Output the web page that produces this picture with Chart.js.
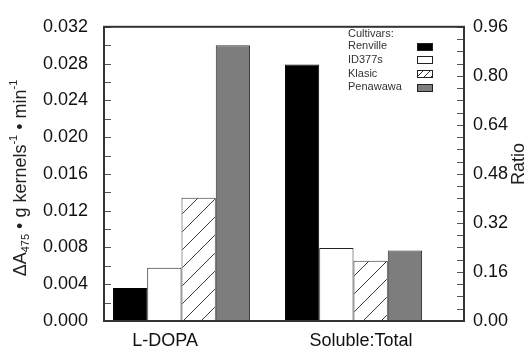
<!DOCTYPE html>
<html>
<head>
<meta charset="utf-8">
<script src="https://cdn.jsdelivr.net/npm/chart.js@4.4.0/dist/chart.umd.min.js"></script>
<style>
  body { margin: 0; background: #fff; }
  #wrap { width: 528px; height: 348px; }
</style>
</head>
<body>
<div id="wrap"><canvas id="myChart" width="528" height="348"></canvas></div>
<script>
"use strict"

// data
const groups = ["L-DOPA", "Soluble:Total"];
const cultivars = ["Renville", "ID377s", "Klasic", "Penawawa"];
const lDopaValues = [0.0036, 0.0058, 0.0134, 0.0300];   // left axis
const ratioValues = [0.837, 0.238, 0.197, 0.230];       // right axis (Ratio)

const fontFamily = "'Liberation Sans', Arial, Helvetica, sans-serif";
const canvas = document.getElementById("myChart");
const ctx = canvas.getContext("2d");

// diagonal hatch for Klasic
function makeHatch(c2d) {
    const c = document.createElement("canvas");
    c.width = 18;
    c.height = 18;
    const g = c.getContext("2d");
    g.fillStyle = "#ffffff";
    g.fillRect(0, 0, 18, 18);
    g.strokeStyle = "#3a3a3a";
    g.lineWidth = 1;
    g.beginPath();
    g.moveTo(0, 18); g.lineTo(18, 0);
    g.moveTo(-9, 9); g.lineTo(9, -9);
    g.moveTo(9, 27); g.lineTo(27, 9);
    g.stroke();
    return c2d.createPattern(c, "repeat");
}

const hatch = makeHatch(ctx);
const fills = ["#000000", "#ffffff", hatch, "#7d7d7d"];
const edges = ["#000000", "#222222", "#333333", "#333333"];

let datasets = [];
for (let i = 0; i < cultivars.length; i++) {
    datasets.push({
        label: cultivars[i],
        data: [lDopaValues[i], null],
        yAxisID: "y",
        backgroundColor: fills[i],
        borderColor: edges[i],
        borderWidth: 1
    });
}
for (let i = 0; i < cultivars.length; i++) {
    datasets.push({
        label: cultivars[i],
        data: [null, ratioValues[i]],
        yAxisID: "y1",
        backgroundColor: fills[i],
        borderColor: edges[i],
        borderWidth: 1
    });
}

// frame and inward tick marks
const framePlugin = {
    id: "frame",
    afterDatasetsDraw(chart) {
        const c = chart.ctx;
        const a = chart.chartArea;
        c.save();
        c.strokeStyle = "#555";
        c.lineWidth = 1;
        const ys = chart.scales.y;
        ys.ticks.forEach(t => {
            const y = Math.round(ys.getPixelForValue(t.value)) + 0.5;
            c.beginPath();
            c.moveTo(a.left, y);
            c.lineTo(a.left + 7, y);
            c.stroke();
        });
        const yr = chart.scales.y1;
        yr.ticks.forEach(t => {
            const y = Math.round(yr.getPixelForValue(t.value)) + 0.5;
            c.beginPath();
            c.moveTo(a.right, y);
            c.lineTo(a.right - 7, y);
            c.stroke();
        });
        c.strokeStyle = "#333";
        c.lineWidth = 2;
        c.strokeRect(a.left, a.top, a.right - a.left, a.bottom - a.top);
        c.restore();
    },
    afterDraw(chart) {
        const c = chart.ctx;
        c.save();

        // left axis title with sub/superscripts
        const parts = [
            { t: "\u0394A", s: 18, dy: 0 },
            { t: "475", s: 11, dy: 5 },
            { t: " \u2022 g kernels", s: 18, dy: 0 },
            { t: "-1", s: 11, dy: -7 },
            { t: " \u2022 min", s: 18, dy: 0 },
            { t: "-1", s: 11, dy: -7 }
        ];
        let total = 0;
        parts.forEach(p => {
            c.font = p.s + "px " + fontFamily;
            p.w = c.measureText(p.t).width;
            total += p.w;
        });
        c.translate(21, 178);
        c.rotate(-Math.PI / 2);
        c.fillStyle = "#222";
        c.textBaseline = "middle";
        c.textAlign = "left";
        let x = -total / 2;
        parts.forEach(p => {
            c.font = p.s + "px " + fontFamily;
            c.fillText(p.t, x, p.dy);
            x += p.w;
        });
        c.setTransform(1, 0, 0, 1, 0, 0);

        // right axis title
        c.translate(519, 164);
        c.rotate(-Math.PI / 2);
        c.font = "18px " + fontFamily;
        c.textAlign = "center";
        c.fillText("Ratio", 0, 0);
        c.setTransform(1, 0, 0, 1, 0, 0);

        // legend
        c.font = "11px " + fontFamily;
        c.fillStyle = "#333";
        c.textAlign = "left";
        c.textBaseline = "middle";
        c.fillText("Cultivars:", 348, 33.5);
        for (let i = 0; i < cultivars.length; i++) {
            const y = 46.3 + i * 13.6;
            c.fillStyle = "#333";
            c.fillText(cultivars[i], 348, y);
            const bx = 417.5, by = Math.round(y - 3.5) + 0.5, bw = 15, bh = 7;
            c.fillStyle = i === 2 ? "#fff" : fills[i];
            c.fillRect(bx, by, bw, bh);
            if (i === 2) {
                c.save();
                c.beginPath();
                c.rect(bx, by, bw, bh);
                c.clip();
                c.strokeStyle = "#333";
                c.lineWidth = 1;
                c.beginPath();
                for (let k = -8; k < bw + 8; k += 7) {
                    c.moveTo(bx + k, by + bh);
                    c.lineTo(bx + k + bh, by);
                }
                c.stroke();
                c.restore();
            }
            c.strokeStyle = "#222";
            c.lineWidth = 1;
            c.strokeRect(bx, by, bw, bh);
        }
        c.restore();
    }
};

const tickFont = { family: fontFamily, size: 18 };

const config = {
    type: "bar",
    data: {
        labels: groups.map((g, i) => i),
        datasets: datasets
    },
    options: {
        responsive: false,
        animation: false,
        layout: { padding: { top: 15, left: 0, right: 0, bottom: 0 } },
        datasets: {
            bar: { skipNull: true, categoryPercentage: 0.797, barPercentage: 1.0 }
        },
        plugins: {
            legend: { display: false },
            tooltip: { enabled: false }
        },
        scales: {
            x: {
                type: "linear",
                min: -0.4506,
                max: 1.6424,
                offset: false,
                grid: { display: false, drawTicks: false },
                border: { display: false },
                afterBuildTicks: s => { s.ticks = [{ value: -0.095 }, { value: 1.044 }]; },
                ticks: {
                    autoSkip: false,
                    maxRotation: 0,
                    padding: 9,
                    color: "#111",
                    font: tickFont,
                    callback: (v, i) => groups[i]
                },
                afterFit: s => { s.height = 27; }
            },
            y: {
                position: "left",
                min: 0,
                max: 0.032,
                grid: { display: false, drawTicks: false },
                border: { display: false },
                ticks: {
                    stepSize: 0.002,
                    autoSkip: false,
                    padding: 16,
                    color: "#111",
                    font: tickFont,
                    callback: (v, i) => i % 2 === 0 ? v.toFixed(3) : ""
                },
                afterFit: s => { s.width = 104; }
            },
            y1: {
                position: "right",
                min: 0,
                max: 0.96,
                grid: { display: false, drawTicks: false },
                border: { display: false },
                ticks: {
                    stepSize: 0.04,
                    autoSkip: false,
                    padding: 9,
                    color: "#111",
                    font: tickFont,
                    callback: (v, i) => i % 4 === 0 ? v.toFixed(2) : ""
                },
                afterFit: s => { s.width = 64; }
            }
        }
    },
    plugins: [framePlugin]
};

const barChart = new Chart(canvas, config);
</script>
</body>
</html>
